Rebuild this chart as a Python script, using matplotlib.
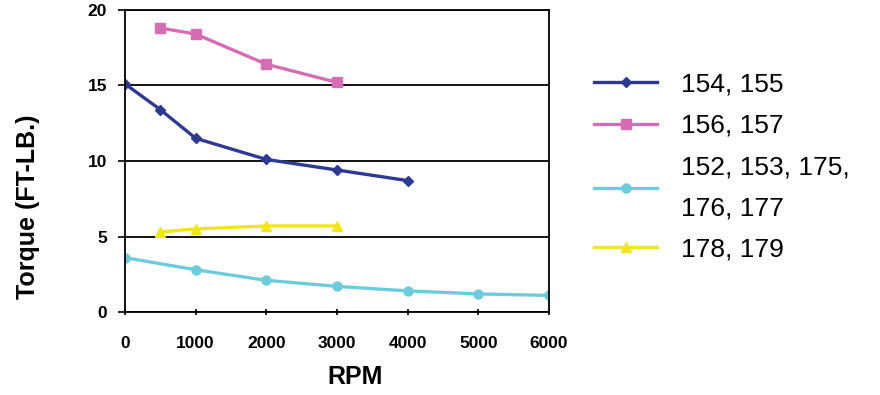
import matplotlib.pyplot as plt

# Data
rpm_154 = [0, 500, 1000, 2000, 3000, 4000]
tq_154 = [15.1, 13.4, 11.5, 10.1, 9.4, 8.7]

rpm_156 = [500, 1000, 2000, 3000]
tq_156 = [18.8, 18.4, 16.4, 15.2]

rpm_152 = [0, 1000, 2000, 3000, 4000, 5000, 6000]
tq_152 = [3.6, 2.8, 2.1, 1.7, 1.4, 1.2, 1.1]

rpm_178 = [500, 1000, 2000, 3000]
tq_178 = [5.3, 5.5, 5.7, 5.7]

labels = ['154, 155', '156, 157', '152, 153, 175,\n176, 177', '178, 179']
x_ticks = [0, 1000, 2000, 3000, 4000, 5000, 6000]
y_ticks = [0, 5, 10, 15, 20]

plt.rcParams['font.family'] = ['Liberation Sans', 'DejaVu Sans']

fig = plt.figure(figsize=(8.8, 3.95), dpi=100)
ax = fig.add_axes([0.142, 0.21, 0.482, 0.765])

ax.plot(rpm_154, tq_154, color='#2E3A92', lw=2.4, marker='D', ms=5.5, label=labels[0])
ax.plot(rpm_156, tq_156, color='#D56CB4', lw=2.4, marker='s', ms=6.5, label=labels[1])
ax.plot(rpm_152, tq_152, color='#6CCCDC', lw=2.4, marker='o', ms=6.5, label=labels[2])
ax.plot(rpm_178, tq_178, color='#F0E61A', lw=2.4, marker='^', ms=6.5, label=labels[3])

ax.set_xlim(0, 6000)
ax.set_ylim(0, 20)
ax.set_xticks(x_ticks)
ax.set_yticks(y_ticks)
ax.tick_params(axis='x', direction='inout', length=5, width=1.2, labelsize=12.5, pad=15)
ax.tick_params(axis='y', direction='out', length=5, width=1.2, labelsize=12.5, pad=8)
for lbl in ax.get_xticklabels() + ax.get_yticklabels():
    lbl.set_fontweight('bold')

ax.yaxis.grid(True, color='black', lw=1.3)
ax.set_axisbelow(True)
for s in ax.spines.values():
    s.set_linewidth(1.3)

ax.set_xlabel('RPM', fontsize=18, fontweight='bold')
ax.xaxis.set_label_coords(0.542, -0.175)
ax.set_ylabel('Torque (FT-LB.)', fontsize=18, fontweight='bold')
ax.yaxis.set_label_coords(-0.2, 0.35)

leg = ax.legend(loc='center left', bbox_to_anchor=(1.05, 0.48), frameon=False,
                fontsize=19, handlelength=2.4, labelspacing=0.66, handletextpad=0.9)
for t in leg.get_texts():
    t.set_linespacing(1.9)

fig.savefig('out.png', dpi=100)
